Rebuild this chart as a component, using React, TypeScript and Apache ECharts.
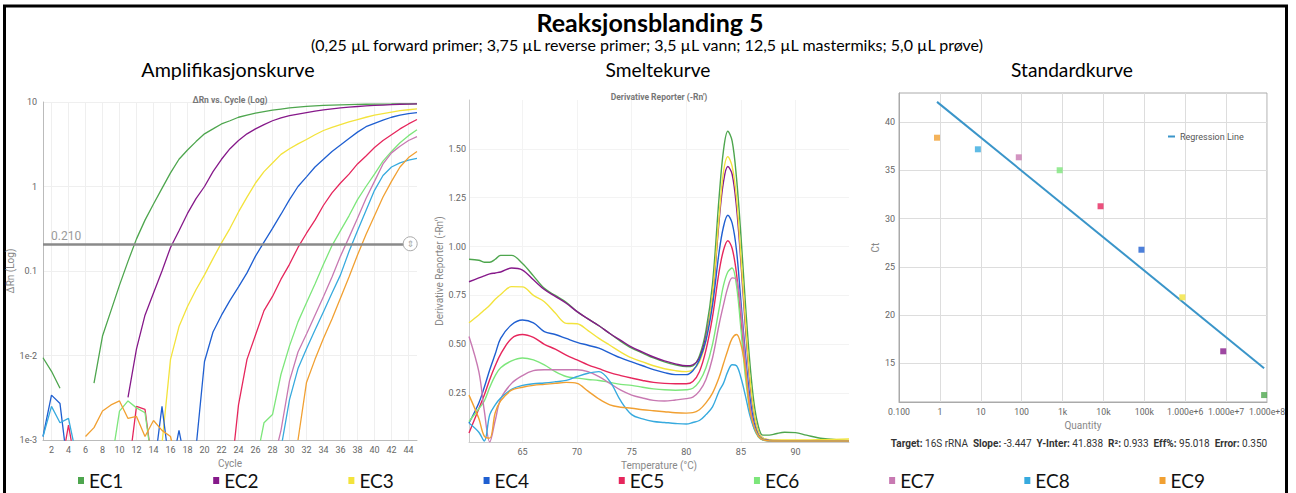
import React, { useEffect, useRef } from "react";
import * as echarts from "echarts";

// ---------- labels ----------
const MAIN_TITLE = "Reaksjonsblanding 5";
const SUBTITLE =
  "(0,25 µL forward primer; 3,75 µL reverse primer; 3,5 µL vann; 12,5 µL mastermiks; 5,0 µL prøve)";
const PANEL_TITLES = ["Amplifikasjonskurve", "Smeltekurve", "Standardkurve"];
const AMP_TITLE = "ΔRn vs. Cycle (Log)";
const MELT_TITLE = "Derivative Reporter (-Rn')";

const SERIES_NAMES = ["EC1", "EC2", "EC3", "EC4", "EC5", "EC6", "EC7", "EC8", "EC9"];
const SERIES_COLORS = [
  "#4ea64e", "#86198a", "#f3e33c", "#1f5fd1", "#e6265c",
  "#7de67b", "#c879b2", "#37aade", "#f1a032",
];

// ---------- amplification (ΔRn per cycle, log) ----------
const CYCLES = [
  1, 2, 3, 4, 5, 6, 7, 8, 9, 10, 11, 12, 13, 14, 15, 16, 17, 18, 19, 20, 21, 22, 23,
  24, 25, 26, 27, 28, 29, 30, 31, 32, 33, 34, 35, 36, 37, 38, 39, 40, 41, 42, 43, 44, 45,
];
const AMP_TICKS = [2, 4, 6, 8, 10, 12, 14, 16, 18, 20, 22, 24, 26, 28, 30, 32, 34, 36, 38, 40, 42, 44];
const THRESHOLD = 0.21;
const THRESHOLD_HANDLE_CYCLE = 44.2;

const AMP_EC1 = [0.0094, 0.0065, 0.0041, null, null, null, 0.0047, 0.017, 0.034, 0.068, 0.13, 0.24, 0.4, 0.62, 0.95, 1.45, 2.1, 2.7, 3.4, 4.2, 4.8, 5.5, 6.0, 6.6, 7.0, 7.4, 7.7, 8.0, 8.25, 8.5, 8.7, 8.9, 9.0, 9.1, 9.2, 9.25, 9.3, 9.35, 9.4, 9.42, 9.45, 9.47, 9.5, 9.5, 9.52];
const AMP_EC2 = [null, null, null, null, null, null, null, null, null, null, 0.0032, 0.012, 0.03, 0.055, 0.1, 0.19, 0.3, 0.48, 0.72, 1.0, 1.5, 2.1, 2.8, 3.5, 4.2, 4.8, 5.4, 6.0, 6.5, 6.9, 7.2, 7.5, 7.8, 8.05, 8.3, 8.5, 8.7, 8.85, 9.0, 9.1, 9.2, 9.3, 9.4, 9.45, 9.5];
const AMP_EC3 = [null, null, null, null, null, null, null, null, null, null, null, null, null, null, 0.0009, 0.009, 0.022, 0.038, 0.06, 0.09, 0.14, 0.215, 0.32, 0.5, 0.75, 1.1, 1.5, 1.9, 2.4, 2.8, 3.2, 3.6, 4.1, 4.6, 5.0, 5.4, 5.8, 6.2, 6.6, 7.0, 7.3, 7.6, 7.9, 8.1, 8.3];
const AMP_EC4 = [0.0011, 0.0034, 0.0027, 0.0004, null, null, null, null, null, null, null, null, null, 0.0004, 0.0025, 0.0004, 0.0013, 0.0004, 0.0008, 0.0085, 0.019, 0.03, 0.045, 0.065, 0.095, 0.15, 0.22, 0.32, 0.47, 0.7, 1.0, 1.3, 1.7, 2.1, 2.6, 3.1, 3.7, 4.4, 5.1, 5.6, 6.1, 6.6, 7.0, 7.3, 7.5];
const AMP_EC5 = [null, null, 0.0004, 0.0015, 0.0004, null, null, null, null, null, 0.0004, 0.0025, 0.0023, 0.0004, null, null, null, null, null, null, null, null, 0.0003, 0.0026, 0.009, 0.0175, 0.034, 0.05, 0.08, 0.12, 0.19, 0.28, 0.4, 0.6, 0.84, 1.1, 1.4, 1.85, 2.3, 2.9, 3.5, 4.1, 4.8, 5.5, 6.2];
const AMP_EC6 = [null, null, null, null, null, null, null, null, 0.0005, 0.0022, 0.0029, 0.0024, 0.0021, 0.0004, null, null, null, null, null, null, null, null, null, null, null, 0.0005, 0.0016, 0.002, 0.006, 0.013, 0.025, 0.042, 0.07, 0.12, 0.2, 0.3, 0.45, 0.7, 1.0, 1.4, 2.0, 2.6, 3.3, 4.0, 4.7];
const AMP_EC7 = [null, null, null, null, null, null, null, null, null, null, null, null, null, null, null, null, null, null, null, null, null, null, null, null, null, null, null, 0.0005, 0.0013, 0.005, 0.011, 0.018, 0.03, 0.05, 0.085, 0.15, 0.25, 0.42, 0.72, 1.15, 1.85, 2.5, 3.0, 3.5, 3.9];
const AMP_EC8 = [0.0011, 0.0025, 0.0016, 0.0018, 0.0006, null, null, null, null, null, null, null, null, null, null, null, null, null, null, null, null, null, null, null, null, null, null, null, 0.0008, 0.003, 0.007, 0.012, 0.02, 0.033, 0.055, 0.09, 0.17, 0.3, 0.52, 0.9, 1.35, 1.7, 1.9, 2.05, 2.15];
const AMP_EC9 = [null, null, null, null, null, 0.0011, 0.0014, 0.0022, 0.0026, 0.0029, 0.0018, 0.0019, 0.0011, 0.0017, 0.0013, 0.0011, 0.0004, null, null, null, null, null, null, null, null, null, null, null, null, null, 0.001, 0.0048, 0.009, 0.016, 0.027, 0.048, 0.085, 0.155, 0.27, 0.45, 0.75, 1.15, 1.7, 2.2, 2.6];
const AMP_VALUES = [AMP_EC1, AMP_EC2, AMP_EC3, AMP_EC4, AMP_EC5, AMP_EC6, AMP_EC7, AMP_EC8, AMP_EC9];

// ---------- melt curve (-Rn' per °C) ----------
const MELT_TEMPS = [60.1, 61, 61.5, 62, 62.5, 63, 64, 65, 66, 67, 68, 69, 70, 71, 72, 73, 74, 75, 76, 77, 78, 79, 80, 80.6, 81.2, 81.8, 82.4, 83, 83.4, 83.8, 84.2, 84.6, 85, 85.4, 85.8, 86.2, 86.6, 87, 87.6, 88.2, 89, 90, 91, 92.5, 94.9];
const MELT_X_TICKS = [65, 70, 75, 80, 85, 90];
const MELT_Y_TICKS = [0.25, 0.5, 0.75, 1.0, 1.25, 1.5];

const MELT_EC1 = [0.935, 0.93, 0.92, 0.92, 0.935, 0.955, 0.955, 0.913, 0.85, 0.786, 0.75, 0.715, 0.667, 0.63, 0.595, 0.555, 0.515, 0.48, 0.455, 0.43, 0.41, 0.395, 0.386, 0.39, 0.44, 0.57, 0.81, 1.25, 1.49, 1.59, 1.54, 1.35, 1.06, 0.72, 0.42, 0.2, 0.08, 0.035, 0.035, 0.042, 0.05, 0.048, 0.035, 0.018, 0.007];
const MELT_EC2 = [0.82, 0.84, 0.85, 0.86, 0.865, 0.87, 0.89, 0.88, 0.83, 0.78, 0.745, 0.71, 0.667, 0.63, 0.595, 0.555, 0.52, 0.485, 0.46, 0.435, 0.415, 0.4, 0.39, 0.395, 0.43, 0.54, 0.74, 1.13, 1.33, 1.41, 1.37, 1.2, 0.92, 0.6, 0.32, 0.14, 0.05, 0.02, 0.01, 0.008, 0.007, 0.006, 0.006, 0.005, 0.005];
const MELT_EC3 = [0.61, 0.65, 0.675, 0.7, 0.73, 0.755, 0.795, 0.794, 0.75, 0.718, 0.66, 0.607, 0.605, 0.57, 0.53, 0.495, 0.46, 0.43, 0.41, 0.39, 0.375, 0.365, 0.36, 0.37, 0.41, 0.52, 0.75, 1.15, 1.38, 1.46, 1.41, 1.25, 0.95, 0.63, 0.34, 0.15, 0.05, 0.02, 0.012, 0.01, 0.01, 0.01, 0.01, 0.012, 0.015];
const MELT_EC4 = [0.097, 0.2, 0.28, 0.37, 0.45, 0.53, 0.6, 0.624, 0.61, 0.565, 0.55, 0.53, 0.51, 0.495, 0.48, 0.455, 0.43, 0.41, 0.39, 0.37, 0.355, 0.345, 0.345, 0.365, 0.42, 0.52, 0.7, 0.97, 1.1, 1.16, 1.12, 0.98, 0.72, 0.46, 0.24, 0.1, 0.035, 0.015, 0.008, 0.006, 0.006, 0.006, 0.005, 0.005, 0.005];
const MELT_EC5 = [0.046, 0.17, 0.24, 0.32, 0.39, 0.45, 0.53, 0.55, 0.535, 0.5, 0.475, 0.445, 0.42, 0.395, 0.375, 0.355, 0.34, 0.327, 0.315, 0.305, 0.3, 0.298, 0.298, 0.31, 0.36, 0.47, 0.64, 0.87, 0.98, 1.03, 0.99, 0.86, 0.62, 0.38, 0.19, 0.08, 0.03, 0.012, 0.007, 0.005, 0.005, 0.005, 0.005, 0.005, 0.005];
const MELT_EC6 = [0.105, 0.17, 0.21, 0.28, 0.34, 0.38, 0.415, 0.43, 0.42, 0.395, 0.36, 0.335, 0.327, 0.32, 0.315, 0.305, 0.295, 0.29, 0.28, 0.272, 0.267, 0.265, 0.267, 0.275, 0.31, 0.38, 0.5, 0.68, 0.8, 0.87, 0.89, 0.8, 0.58, 0.34, 0.17, 0.07, 0.025, 0.01, 0.006, 0.005, 0.005, 0.005, 0.005, 0.005, 0.005];
const MELT_EC7 = [0.54, 0.36, 0.16, 0.0, 0.11, 0.22, 0.3, 0.34, 0.365, 0.37, 0.37, 0.37, 0.37, 0.36, 0.335, 0.3, 0.265, 0.24, 0.225, 0.213, 0.21, 0.215, 0.222, 0.23, 0.26, 0.32, 0.43, 0.6, 0.7, 0.79, 0.84, 0.83, 0.68, 0.42, 0.2, 0.08, 0.03, 0.012, 0.006, 0.005, 0.005, 0.005, 0.005, 0.005, 0.005];
const MELT_EC8 = [0.097, 0.05, 0.005, 0.14, 0.19, 0.225, 0.27, 0.29, 0.298, 0.302, 0.308, 0.315, 0.335, 0.352, 0.36, 0.31, 0.21, 0.14, 0.118, 0.105, 0.1, 0.095, 0.092, 0.1, 0.11, 0.14, 0.18, 0.26, 0.3, 0.36, 0.395, 0.39, 0.33, 0.24, 0.14, 0.07, 0.03, 0.012, 0.006, 0.005, 0.005, 0.005, 0.005, 0.005, 0.005];
const MELT_EC9 = [0.24, 0.12, 0.03, 0.02, 0.15, 0.21, 0.265, 0.28, 0.29, 0.295, 0.3, 0.305, 0.3, 0.26, 0.22, 0.19, 0.178, 0.173, 0.165, 0.16, 0.155, 0.15, 0.148, 0.15, 0.165, 0.2, 0.25, 0.33, 0.4, 0.47, 0.53, 0.55, 0.5, 0.38, 0.17, 0.08, 0.03, 0.012, 0.006, 0.005, 0.005, 0.005, 0.005, 0.005, 0.005];
const MELT_VALUES = [MELT_EC1, MELT_EC2, MELT_EC3, MELT_EC4, MELT_EC5, MELT_EC6, MELT_EC7, MELT_EC8, MELT_EC9];

// ---------- standard curve ----------
const STD_QUANTITY = [8.5e7, 8.5e6, 8.5e5, 8.5e4, 8500, 850, 85, 8.5, 0.85];
const STD_CT = [11.72, 16.25, 21.84, 26.77, 31.27, 35.0, 36.34, 37.17, 38.37];
const STD_Y_TICKS = [15, 20, 25, 30, 35, 40];
const REG_SLOPE = -3.447;
const REG_INTERCEPT = 41.838;
const STATS = [
  ["Target:", "16S rRNA"],
  ["Slope:", "-3.447"],
  ["Y-Inter:", "41.838"],
  ["R²:", "0.933"],
  ["Eff%:", "95.018"],
  ["Error:", "0.350"],
];

const AXIS_FONT = "Roboto";
const HEAD_FONT = "Lato";

function logLabelAmp(v: number) {
  const e = Math.round(Math.log10(v));
  if (e >= 1) return "10";
  if (e === 0) return "1";
  if (e === -1) return "0.1";
  return "1e" + e;
}
function logLabelQty(v: number) {
  const e = Math.round(Math.log10(v));
  if (e === -1) return "0.100";
  if (e <= 2) return String(Math.pow(10, e));
  if (e === 3) return "1k";
  if (e === 4) return "10k";
  if (e === 5) return "100k";
  return "1.000e+" + e;
}

export default function App() {
  const ref = useRef<HTMLDivElement>(null);
  useEffect(() => {
    if (!ref.current) return;
    const chart = echarts.init(ref.current, undefined, { renderer: "svg" });

    const labelStyle = { color: "#666", fontSize: 9, fontFamily: AXIS_FONT };
    const nameStyle = { color: "#888", fontSize: 10, fontFamily: AXIS_FONT };

    const ampSeries = SERIES_NAMES.map((name, i) => ({
      type: "line",
      name,
      xAxisIndex: 0,
      yAxisIndex: 0,
      showSymbol: false,
      symbol: "none",
      connectNulls: false,
      clip: true,
      color: SERIES_COLORS[i],
      lineStyle: { width: 1.3, color: SERIES_COLORS[i] },
      data: CYCLES.map((c, k) => [c, AMP_VALUES[i][k] == null ? "-" : AMP_VALUES[i][k]]),
    }));

    const meltSeries = SERIES_NAMES.map((name, i) => ({
      type: "line",
      name,
      xAxisIndex: 1,
      yAxisIndex: 1,
      showSymbol: false,
      symbol: "none",
      smooth: 0.35,
      clip: true,
      color: SERIES_COLORS[i],
      lineStyle: { width: 1.4, color: SERIES_COLORS[i] },
      data: MELT_TEMPS.map((t, k) => [t, MELT_VALUES[i][k]]),
    }));

    const stdSeries = SERIES_NAMES.map((name, i) => ({
      type: "scatter",
      name,
      xAxisIndex: 2,
      yAxisIndex: 2,
      symbol: "rect",
      symbolSize: 6,
      color: SERIES_COLORS[i],
      itemStyle: { color: SERIES_COLORS[i] },
      data: [[STD_QUANTITY[i], STD_CT[i]]],
      z: 5,
    }));

    const qMin = Math.min(...STD_QUANTITY);
    const qMax = Math.max(...STD_QUANTITY);
    const regression = {
      type: "line",
      name: "Regression Line",
      xAxisIndex: 2,
      yAxisIndex: 2,
      showSymbol: false,
      symbol: "none",
      color: "#3a95c9",
      lineStyle: { width: 2, color: "#3a95c9" },
      data: [
        [qMin, REG_INTERCEPT + REG_SLOPE * Math.log10(qMin)],
        [qMax, REG_INTERCEPT + REG_SLOPE * Math.log10(qMax)],
      ],
      z: 3,
    };

    const threshold = {
      type: "line",
      name: "Threshold",
      xAxisIndex: 0,
      yAxisIndex: 0,
      data: [],
      markLine: {
        silent: true,
        symbol: ["none", "none"],
        lineStyle: { color: "#8a8a8a", width: 2.5, type: "solid" },
        label: {
          show: true,
          position: "insideStartTop",
          formatter: THRESHOLD.toFixed(3),
          color: "#9a9a9a",
          fontSize: 12,
          fontFamily: AXIS_FONT,
          distance: [8, 2],
        },
        data: [{ yAxis: THRESHOLD }],
        z: 6,
      },
      markPoint: {
        silent: true,
        symbol: "circle",
        symbolSize: 14,
        itemStyle: { color: "#ffffff", borderColor: "#aaaaaa", borderWidth: 1 },
        label: { show: true, formatter: "⇕", color: "#aaaaaa", fontSize: 9, fontFamily: "DejaVu Sans" },
        data: [{ coord: [THRESHOLD_HANDLE_CYCLE, THRESHOLD] }],
        z: 7,
      },
    };

    const statsText = STATS.map(([k, v]) => `{b|${k}} ${v}`).join("  ");

    const option: any = {
      animation: false,
      backgroundColor: "#ffffff",
      textStyle: { fontFamily: AXIS_FONT },
      grid: [
        { left: 43, top: 102, width: 374, height: 338 },
        { left: 469, top: 100, width: 380, height: 342 },
        { left: 899, top: 93, width: 368, height: 309, show: true, borderColor: "#aaaaaa", borderWidth: 1 },
      ],
      legend: [
        {
          data: SERIES_NAMES,
          left: 73,
          top: 466,
          icon: "rect",
          itemWidth: 6,
          itemHeight: 7,
          itemGap: 89.8,
          textStyle: { fontFamily: HEAD_FONT, fontSize: 19, color: "#111" },
        },
        {
          data: ["Regression Line"],
          left: 1163,
          top: 127,
          icon: "rect",
          itemWidth: 7,
          itemHeight: 2,
          textStyle: { fontFamily: AXIS_FONT, fontSize: 9, color: "#555" },
        },
      ],
      xAxis: [
        {
          gridIndex: 0,
          type: "value",
          min: 1,
          max: 45,
          axisLine: { show: true, lineStyle: { color: "#bbbbbb" } },
          axisTick: { show: false, customValues: AMP_TICKS },
          axisLabel: { ...labelStyle, customValues: AMP_TICKS, margin: 5 },
          splitLine: { show: true, lineStyle: { color: "#efefef" } },
          name: "Cycle",
          nameLocation: "middle",
          nameGap: 15,
          nameTextStyle: nameStyle,
        },
        {
          gridIndex: 1,
          type: "value",
          min: 60.1,
          max: 94.9,
          axisLine: { show: true, lineStyle: { color: "#cccccc" } },
          axisTick: { show: false, customValues: MELT_X_TICKS },
          axisLabel: { ...labelStyle, customValues: MELT_X_TICKS, margin: 5 },
          splitLine: { show: true, lineStyle: { color: "#f3f3f3" } },
          name: "Temperature (°C)",
          nameLocation: "middle",
          nameGap: 15,
          nameTextStyle: nameStyle,
        },
        {
          gridIndex: 2,
          type: "log",
          logBase: 10,
          min: 0.1,
          max: 1e8,
          splitNumber: 9,
          axisLine: { show: true, lineStyle: { color: "#aaaaaa" } },
          axisTick: { show: false },
          axisLabel: { ...labelStyle, fontSize: 8.7, margin: 5, formatter: logLabelQty },
          splitLine: { show: true, lineStyle: { color: "#dddddd" } },
          name: "Quantity",
          nameLocation: "middle",
          nameGap: 16,
          nameTextStyle: nameStyle,
        },
      ],
      yAxis: [
        {
          gridIndex: 0,
          type: "log",
          logBase: 10,
          min: 0.001,
          max: 10,
          splitNumber: 4,
          axisLine: { show: true, lineStyle: { color: "#bbbbbb" } },
          axisTick: { show: false },
          axisLabel: { ...labelStyle, margin: 6, formatter: logLabelAmp },
          splitLine: { show: true, lineStyle: { color: "#efefef" } },
          name: "ΔRn (Log)",
          nameLocation: "middle",
          nameGap: 19,
          nameTextStyle: nameStyle,
        },
        {
          gridIndex: 1,
          type: "value",
          min: 0,
          max: 1.75,
          axisLine: { show: true, lineStyle: { color: "#cccccc" } },
          axisTick: { show: false, customValues: MELT_Y_TICKS },
          axisLabel: {
            ...labelStyle,
            customValues: MELT_Y_TICKS,
            margin: 3,
            formatter: (v: number) => v.toFixed(2),
          },
          splitLine: { show: true, lineStyle: { color: "#f3f3f3" } },
          name: MELT_TITLE,
          nameLocation: "middle",
          nameGap: 17,
          nameTextStyle: nameStyle,
        },
        {
          gridIndex: 2,
          type: "value",
          min: 11,
          max: 43,
          axisLine: { show: true, lineStyle: { color: "#aaaaaa" } },
          axisTick: { show: false, customValues: STD_Y_TICKS },
          axisLabel: { ...labelStyle, customValues: STD_Y_TICKS, margin: 4 },
          splitLine: { show: true, lineStyle: { color: "#dddddd" } },
          name: "Ct",
          nameLocation: "middle",
          nameGap: 10,
          nameTextStyle: nameStyle,
        },
      ],
      graphic: [
        {
          type: "rect",
          shape: { x: 4.5, y: 6, width: 1282, height: 500 },
          style: { fill: "none", stroke: "#000000", lineWidth: 3 },
          silent: true,
        },
        {
          type: "text",
          x: 650,
          y: 22,
          style: { text: MAIN_TITLE, font: `bold 25px ${HEAD_FONT}`, fill: "#000", align: "center", verticalAlign: "middle" },
        },
        {
          type: "text",
          x: 647,
          y: 44,
          style: { text: SUBTITLE, font: `16px ${HEAD_FONT}`, fill: "#000", align: "center", verticalAlign: "middle" },
        },
        {
          type: "text",
          x: 228,
          y: 69,
          style: { text: PANEL_TITLES[0], font: `19.7px ${HEAD_FONT}`, fill: "#000", align: "center", verticalAlign: "middle" },
        },
        {
          type: "text",
          x: 658,
          y: 69,
          style: { text: PANEL_TITLES[1], font: `19.2px ${HEAD_FONT}`, fill: "#000", align: "center", verticalAlign: "middle" },
        },
        {
          type: "text",
          x: 1072,
          y: 69,
          style: { text: PANEL_TITLES[2], font: `19.2px ${HEAD_FONT}`, fill: "#000", align: "center", verticalAlign: "middle" },
        },
        {
          type: "text",
          x: 230,
          y: 100,
          z: 10,
          style: { text: AMP_TITLE, font: `bold 8.5px ${AXIS_FONT}`, fill: "#777", align: "center", verticalAlign: "middle" },
        },
        {
          type: "text",
          x: 659,
          y: 97,
          z: 10,
          style: { text: MELT_TITLE, font: `bold 8.5px ${AXIS_FONT}`, fill: "#777", align: "center", verticalAlign: "middle" },
        },
        {
          type: "text",
          x: 1079,
          y: 443,
          style: {
            text: statsText,
            font: `10px ${AXIS_FONT}`,
            fill: "#333",
            align: "center",
            verticalAlign: "middle",
            rich: { b: { fontWeight: "bold", fontSize: 10, fontFamily: AXIS_FONT, fill: "#333" } },
          },
        },
      ],
      series: [...ampSeries, threshold, ...meltSeries, regression, ...stdSeries],
    };

    chart.setOption(option);
    return () => chart.dispose();
  }, []);

  return (
    <div
      ref={ref}
      style={{ position: "fixed", left: 0, top: 0, width: 1296, height: 493, background: "#fff" }}
    />
  );
}
